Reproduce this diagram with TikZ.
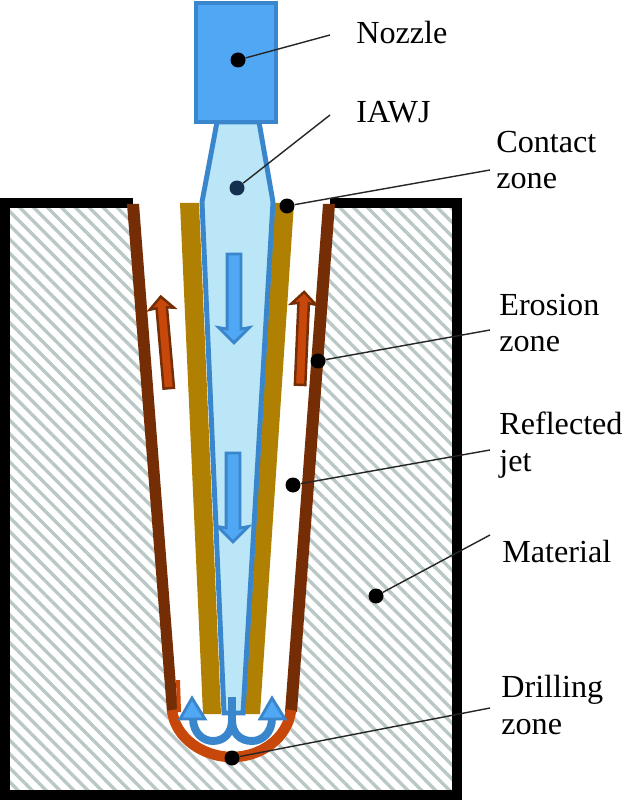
\documentclass[tikz,border=0pt]{standalone}
\usepackage{fontspec}
\setmainfont{Liberation Serif}
\usepackage{xcolor}
\usetikzlibrary{shapes.arrows,patterns.meta}
\definecolor{jetblue}{HTML}{BAE6F7}
\definecolor{nozzleblue}{HTML}{50A8F5}
\definecolor{edgeblue}{HTML}{3A86CC}
\definecolor{goldzone}{HTML}{B08002}
\definecolor{wallbrown}{HTML}{752D06}
\definecolor{erodeorange}{HTML}{C8480C}
\definecolor{hatchgrey}{HTML}{B9C8C6}
\definecolor{dotnavy}{HTML}{14304F}
\tikzset{
  dot/.style={circle, fill=black, inner sep=0pt, minimum size=0.3cm},
  leader/.style={line width=0.8pt, black!85},
  lbl/.style={anchor=west, align=left, inner sep=0pt, font=\fontsize{18.3}{21}\selectfont},
  wall/.style={fill=wallbrown, draw=none},
  downarrow/.style={single arrow, draw=edgeblue, fill=nozzleblue, line width=1.6pt, inner sep=0.11cm,
    minimum width=0.58cm, single arrow head extend=0.17cm, single arrow head indent=0.03cm, shape border rotate=270},
  backarrow/.style={single arrow, draw=wallbrown, fill=erodeorange, line width=1.4pt, inner sep=0.08cm,
    minimum width=0.44cm, single arrow head extend=0.14cm, single arrow head indent=0.02cm}
}
\begin{document}
\begin{tikzpicture}[x=0.02cm, y=-0.02cm]
  \useasboundingbox (0,0) rectangle (629,800);

  % Material
  \fill[white] (0,0) rectangle (629,800);
  \fill[pattern={Lines[angle=-45, distance=5.6pt, line width=1.9pt]}, pattern color=hatchgrey]
    (5,203) -- (131,203) -- (167,712) .. controls (170,742) and (200,762) .. (232,762)
    .. controls (264,762) and (293,742) .. (296,712) -- (334,203) -- (457,203) -- (457,795) -- (5,795) -- cycle;
  \draw[line width=5.67pt, line join=miter] (133,203) -- (5,203) -- (5,795) -- (457,795) -- (457,203) -- (330,203);

  % Hole walls
  \fill[wall] (127,204) -- (139,204) -- (178,712) -- (167,712) -- cycle;
  \fill[wall] (323,204) -- (335,204) -- (297,712) -- (285,712) -- cycle;
  \fill[erodeorange] (176,680) -- (180,680) -- (181,712) -- (177,712) -- cycle;

  % Drilling zone
  \draw[erodeorange, line width=6pt] (172,710) .. controls (175,738) and (203,757) .. (232,757)
    .. controls (261,757) and (288,738) .. (291,710);

  % Contact zone
  \fill[goldzone] (180,203) -- (199,203) -- (221,714) -- (203,714) -- cycle;
  \fill[goldzone] (275,203) -- (294,203) -- (260,714) -- (245,714) -- cycle;

  % Nozzle and jet
  \draw[edgeblue, fill=jetblue, line width=2.8pt] (217,122) -- (259,122) -- (273,202) -- (243,713)
    -- (224,713) -- (202,202) -- cycle;
  \draw[edgeblue, fill=nozzleblue, line width=1.8pt] (196,3) rectangle (276,122);

  % Flow arrows
  \node[downarrow, minimum height=1.78cm] (flow1) at (234,295) {};
  \node[downarrow, minimum height=1.78cm] (flow2) at (233,494) {};
  \node[backarrow, minimum height=1.84cm, rotate=95] (back1) at (165,345) {};
  \node[backarrow, minimum height=1.86cm, rotate=87.5] (back2) at (302,341) {};

  % Flow at the bottom
  \draw[edgeblue, line width=5pt] (232,697) -- (232,722);
  \draw[edgeblue, line width=4.5pt] (232,720) .. controls (232,733) and (224,741) .. (213,741)
    .. controls (203,741) and (193,733) .. (193,718);
  \draw[edgeblue, line width=4.5pt] (232,720) .. controls (232,733) and (240,741) .. (252,741)
    .. controls (262,741) and (272,733) .. (272,718);
  \draw[edgeblue, fill=nozzleblue, line width=1.6pt] (192,698) -- (205,719) -- (180,719) -- cycle;
  \draw[edgeblue, fill=nozzleblue, line width=1.6pt] (272,698) -- (285,719) -- (260,719) -- cycle;

  % Labels
  \node[lbl] (nozzlelbl) at (356,33) {Nozzle};
  \node[lbl] (iawjlbl) at (356,112) {IAWJ};
  \node[lbl] (contactlbl) at (496,160) {Contact\\zone};
  \node[lbl] (erosionlbl) at (499,323) {Erosion\\zone};
  \node[lbl] (jetlbl) at (499,445) {Reflected\\jet};
  \node[lbl] (materiallbl) at (502,551) {Material};
  \node[lbl] (drillinglbl) at (501,705) {Drilling\\zone};

  % Leaders
  \node[dot] (nozzledot) at (238,60) {};
  \node[dot, fill=dotnavy] (iawjdot) at (237,188) {};
  \node[dot] (contactdot) at (287,206) {};
  \node[dot] (erosiondot) at (318,361) {};
  \node[dot] (jetdot) at (293,485) {};
  \node[dot] (materialdot) at (376,596) {};
  \node[dot] (drillingdot) at (232,758) {};
  \coordinate (nozzleend) at (330,35);
  \coordinate (iawjend) at (330,115);
  \coordinate (contactend) at (490,170);
  \coordinate (erosionend) at (490,330);
  \coordinate (jetend) at (490,450);
  \coordinate (materialend) at (490,535);
  \coordinate (drillingend) at (490,708);
  \draw[leader] (nozzledot) -- (nozzleend);
  \draw[leader] (iawjdot) -- (iawjend);
  \draw[leader] (contactdot) -- (contactend);
  \draw[leader] (erosiondot) -- (erosionend);
  \draw[leader] (jetdot) -- (jetend);
  \draw[leader] (materialdot) -- (materialend);
  \draw[leader] (drillingdot) -- (drillingend);
\end{tikzpicture}
\end{document}
